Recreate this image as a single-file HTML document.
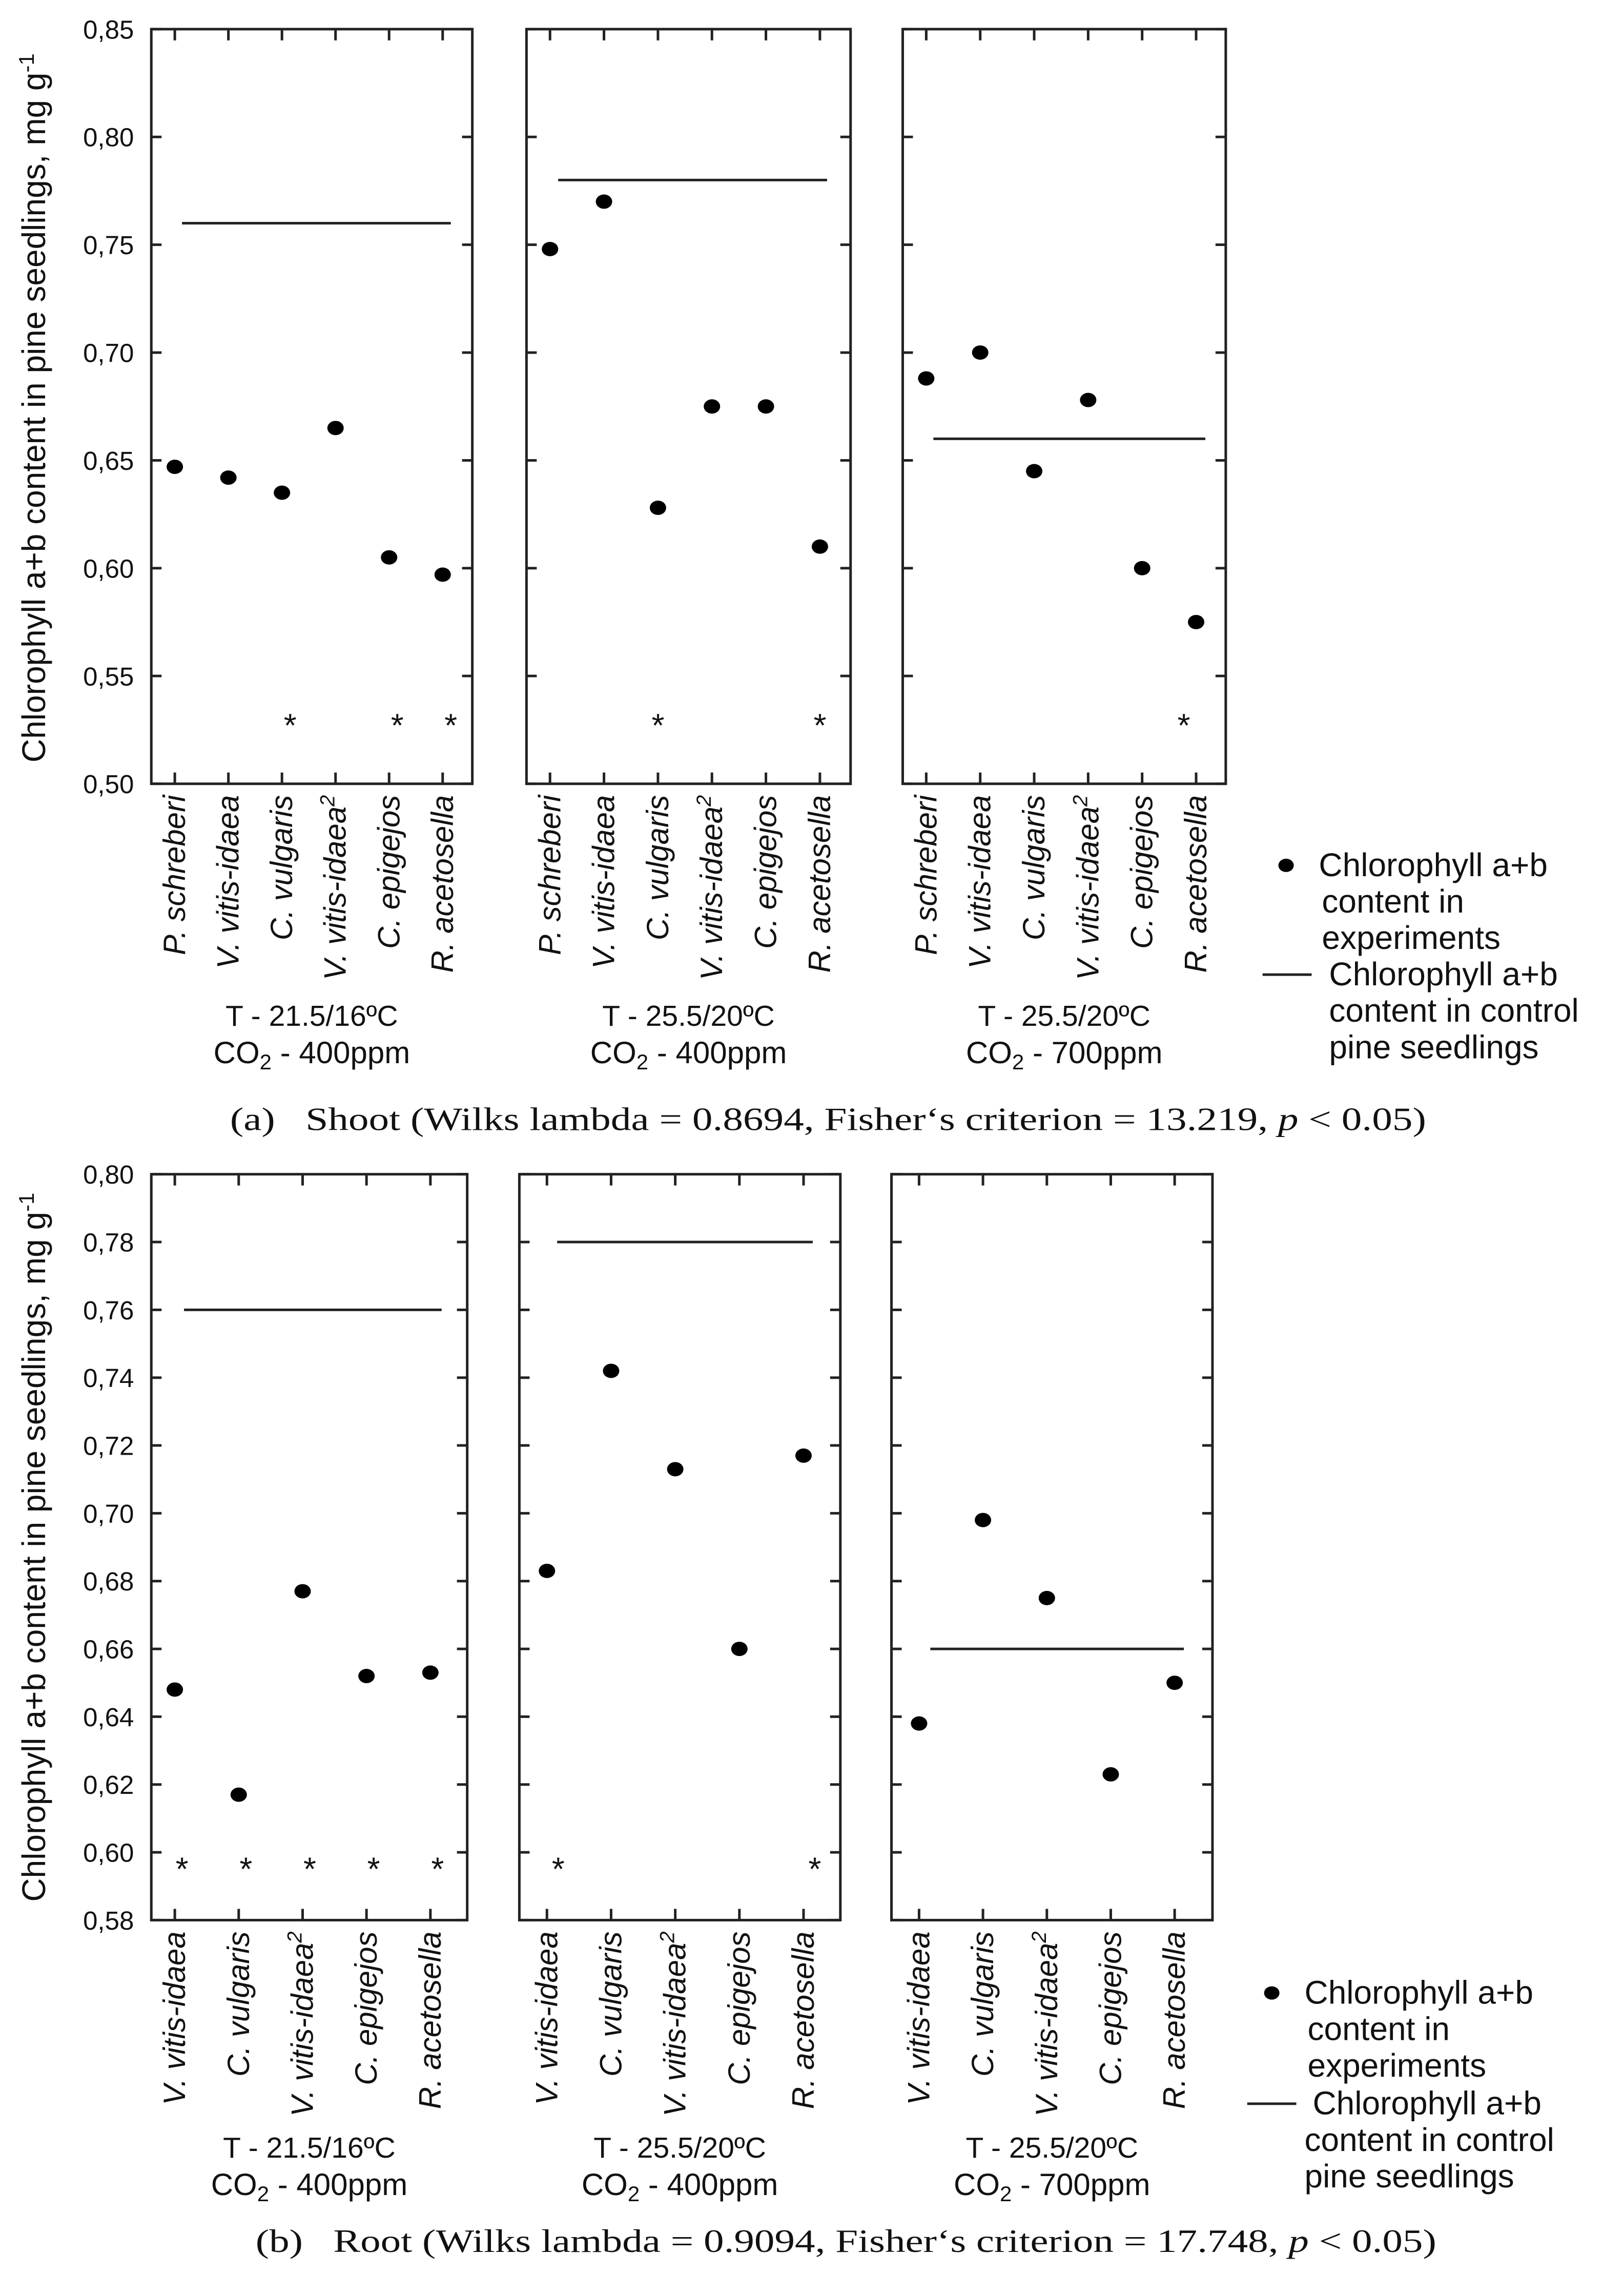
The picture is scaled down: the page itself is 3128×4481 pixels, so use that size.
<!DOCTYPE html>
<html><head><meta charset="utf-8"><style>
html,body{margin:0;padding:0;background:#fff}
svg{display:block}
text{font-family:"Liberation Sans",sans-serif;fill:#111}
.serif{font-family:"Liberation Serif",serif}
</style></head><body>
<svg id="fig" xmlns="http://www.w3.org/2000/svg" width="3128" height="4481" viewBox="0 0 3128 4481"></svg>
<script>
// ---- data ----
const shootCats1 = ["P. schreberi","V. vitis-idaea","C. vulgaris","V. vitis-idaea²","C. epigejos","R. acetosella"];
const shootVals1 = [0.647,0.642,0.635,0.665,0.605,0.597];
const shootCtrl1 = 0.76;
const shootStars1 = [0,0,1,0,1,1];
const shootVals2 = [0.748,0.770,0.628,0.675,0.675,0.610];
const shootCtrl2 = 0.78;
const shootStars2 = [0,0,1,0,0,1];
const shootVals3 = [0.688,0.700,0.645,0.678,0.600,0.575];
const shootCtrl3 = 0.66;
const shootStars3 = [0,0,0,0,0,1];
const shootTicks = ["0,50","0,55","0,60","0,65","0,70","0,75","0,80","0,85"];
const shootTickVals = [0.50,0.55,0.60,0.65,0.70,0.75,0.80,0.85];

const rootCats = ["V. vitis-idaea","C. vulgaris","V. vitis-idaea²","C. epigejos","R. acetosella"];
const rootVals1 = [0.648,0.617,0.677,0.652,0.653];
const rootCtrl1 = 0.76;
const rootStars1 = [1,1,1,1,1];
const rootVals2 = [0.683,0.742,0.713,0.660,0.717];
const rootCtrl2 = 0.78;
const rootStars2 = [1,0,0,0,1];
const rootVals3 = [0.638,0.698,0.675,0.623,0.650];
const rootCtrl3 = 0.66;
const rootStars3 = [0,0,0,0,0];
const rootTicks = ["0,58","0,60","0,62","0,64","0,66","0,68","0,70","0,72","0,74","0,76","0,78","0,80"];
const rootTickVals = [0.58,0.60,0.62,0.64,0.66,0.68,0.70,0.72,0.74,0.76,0.78,0.80];

const condT = ["T - 21.5/16ºC","T - 25.5/20ºC","T - 25.5/20ºC"];
const condC = ["400ppm","400ppm","700ppm"];

// ---- helpers (layout units: x in 1568-wide, y in 1576-tall) ----
const KX = 3128/1568, KY = 4481/1576;
const X = v => v*KX, Y = v => v*KY;
const NS = "http://www.w3.org/2000/svg";
const svg = document.getElementById("fig");
function mk(tag, attrs, parent){
  const e = document.createElementNS(NS, tag);
  for (const k in attrs) e.setAttribute(k, attrs[k]);
  (parent||svg).appendChild(e);
  return e;
}

function chart(cfg){
  const g = mk("g",{});
  
  
  const yS = v => cfg.y1 + (cfg.vmax - v)/(cfg.vmax - cfg.vmin)*(cfg.y2 - cfg.y1);
  cfg.tickVals.forEach((tv,i)=>{
    const t = mk("text",{x:X(131),y:Y(yS(tv)+6.5),"text-anchor":"end","font-size":51},g);
    
    
    t.textContent = cfg.tickLabels[i];
  });
  const yt = mk("text",{transform:`translate(${X(44)},${Y(cfg.titleY)}) rotate(-90)`,"text-anchor":"middle","font-size":64},g);
  
  
  yt.textContent = "Chlorophyll a+b content in pine seedlings, mg g";
  const sup = mk("tspan",{dy:-22,"font-size":42},yt);
  sup.textContent = "-1";

  cfg.panels.forEach((p,pi)=>{
    const pg = mk("g",{},g);
    
    
    const fr = mk("rect",{x:X(p.x1),y:Y(cfg.y1),width:X(p.x2-p.x1),height:Y(cfg.y2-cfg.y1),fill:"none",stroke:"#222","stroke-width":5},pg);
    
    
    const n = cfg.cats.length;
    const step = (p.cx2 - p.cx1)/(n-1);
    const xS = i => p.cx1 + i*step;
    cfg.tickVals.forEach(tv=>{
      const yy = Y(yS(tv));
      mk("line",{x1:X(p.x1),x2:X(p.x1)+20,y1:yy,y2:yy,stroke:"#222","stroke-width":5},pg);
      mk("line",{x1:X(p.x2),x2:X(p.x2)-20,y1:yy,y2:yy,stroke:"#222","stroke-width":5},pg);
    });
    const cl = mk("line",{x1:X(p.lx1),x2:X(p.lx2),y1:Y(yS(p.ctrl)),y2:Y(yS(p.ctrl)),stroke:"#222","stroke-width":5},pg);
    
    
    cfg.cats.forEach((c,i)=>{
      const xx = X(xS(i));
      mk("line",{x1:xx,x2:xx,y1:Y(cfg.y1),y2:Y(cfg.y1)+22,stroke:"#222","stroke-width":5},pg);
      mk("line",{x1:xx,x2:xx,y1:Y(cfg.y2),y2:Y(cfg.y2)-22,stroke:"#222","stroke-width":5},pg);
      const d = mk("ellipse",{cx:xx,cy:Y(yS(p.vals[i])),rx:16,ry:14,fill:"#000"},pg);
      
      
      if (p.stars[i]){
        const s = mk("text",{x:xx+X(p.starDx),y:Y(cfg.starY)+30,"text-anchor":"middle","font-size":64},pg);
        
        
        s.textContent = "*";
      }
      const lbl = mk("text",{transform:`translate(${xx+20},${Y(cfg.y2)+22}) rotate(-90)`,"text-anchor":"end","font-size":60,"font-style":"italic"},pg);
      
      
      if (c.endsWith("²")){ lbl.textContent = c.slice(0,-1); const t2=mk("tspan",{dy:-22,"font-size":40},lbl); t2.textContent="2"; }
      else lbl.textContent = c;
    });
    const mid = X((p.x1+p.x2)/2);
    const t1 = mk("text",{x:mid,y:Y(cfg.condY)+20,"text-anchor":"middle","font-size":57},pg);
    
    
    t1.textContent = condT[pi];
    const t2 = mk("text",{x:mid,y:Y(cfg.condY+25)+22,"text-anchor":"middle","font-size":60},pg);
    
    
    t2.textContent = "CO";
    const sb = mk("tspan",{dy:12,"font-size":42},t2); sb.textContent="2";
    const rest = mk("tspan",{dy:-12},t2); rest.textContent=" - "+condC[pi];
  });
  const L = cfg.legend;
  const lg = mk("g",{},g);
  
  
  mk("ellipse",{cx:X(L.dotX),cy:Y(L.y),rx:15,ry:13,fill:"#000"},lg);
  ["Chlorophyll a+b","content in","experiments"].forEach((s,i)=>{
    const t = mk("text",{x:X(L.tx+(i?3:0)),y:Y(L.y+i*25)+21,"font-size":64},lg);
    
    
    t.textContent = s;
  });
  mk("line",{x1:X(L.lx1),x2:X(L.lx2),y1:Y(L.ly),y2:Y(L.ly),stroke:"#222","stroke-width":5},lg);
  ["Chlorophyll a+b","content in control","pine seedlings"].forEach((s,i)=>{
    const t = mk("text",{x:X(L.tx2[i]),y:Y(L.ly+i*25)+21,"font-size":64},lg);
    
    
    t.textContent = s;
  });
  const cap = mk("text",{x:X(cfg.capX),y:Y(cfg.capY)+22,"font-size":64,"class":"serif",textLength:X(cfg.capW),lengthAdjust:"spacingAndGlyphs"},g);
  
  
  cap.innerHTML = cfg.caption;
}

chart({
  name:"shoot-chart", y1:20, y2:538, vmin:0.50, vmax:0.85, tickVals:shootTickVals, tickLabels:shootTicks,
  titleY:280, cats:shootCats1, starY:495, condY:697,
  panels:[
    {x1:148,x2:462,cx1:171,cx2:433,lx1:178,lx2:441,vals:shootVals1,ctrl:shootCtrl1,stars:shootStars1,starDx:8},
    {x1:515,x2:832,cx1:538,cx2:802,lx1:546,lx2:809,vals:shootVals2,ctrl:shootCtrl2,stars:shootStars2,starDx:0},
    {x1:883,x2:1199,cx1:906,cx2:1170,lx1:913,lx2:1179,vals:shootVals3,ctrl:shootCtrl3,stars:shootStars3,starDx:-12}
  ],
  legend:{dotX:1258,y:594,tx:1290,lx1:1235,lx2:1283,ly:669,tx2:[1300,1300,1300]},
  capX:225,capY:768,capW:1170,
  caption:'(a)&#160;&#160; Shoot (Wilks lambda = 0.8694, Fisher‘s criterion = 13.219, <tspan font-style="italic">p</tspan> &lt; 0.05)'
});
chart({
  name:"root-chart", y1:806, y2:1318, vmin:0.58, vmax:0.80, tickVals:rootTickVals, tickLabels:rootTicks,
  titleY:1062, cats:rootCats, starY:1280, condY:1474,
  panels:[
    {x1:148,x2:457,cx1:171,cx2:421,lx1:180,lx2:432,vals:rootVals1,ctrl:rootCtrl1,stars:rootStars1,starDx:7},
    {x1:508,x2:822,cx1:535,cx2:786,lx1:545,lx2:795,vals:rootVals2,ctrl:rootCtrl2,stars:rootStars2,starDx:11},
    {x1:872,x2:1186,cx1:899,cx2:1149,lx1:910,lx2:1158,vals:rootVals3,ctrl:rootCtrl3,stars:rootStars3,starDx:0}
  ],
  legend:{dotX:1244,y:1368,tx:1276,lx1:1220,lx2:1268,ly:1444,tx2:[1284,1276,1276]},
  capX:250,capY:1538,capW:1155,
  caption:'(b)&#160;&#160; Root (Wilks lambda = 0.9094, Fisher‘s criterion = 17.748, <tspan font-style="italic">p</tspan> &lt; 0.05)'
});
</script>
</body></html>
